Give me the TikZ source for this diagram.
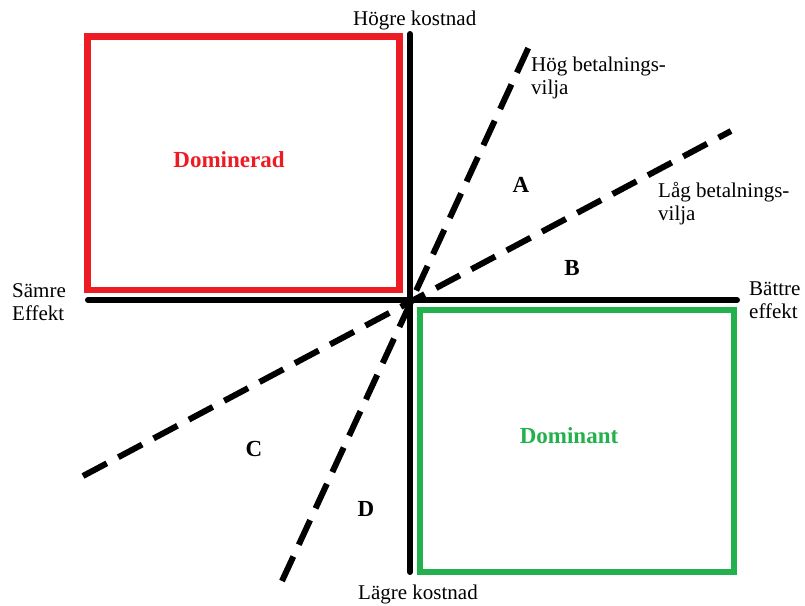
\documentclass[tikz,border=0pt]{standalone}
\usepackage{fontspec}
\setmainfont{Liberation Serif}
\usetikzlibrary{positioning}
\definecolor{ZoneRed}{HTML}{ED1C24}
\definecolor{ZoneGreen}{HTML}{22B14C}
\tikzset{
  every node/.style={font=\fontsize{21}{23}\selectfont, text=black, inner sep=0pt},
  axis/.style={draw=black, line width=6pt, line cap=round},
  threshold/.style={draw=black, line width=6pt, dash pattern=on 27pt off 13pt},
  zone/.style={line width=6.5pt},
  region/.style={font=\fontsize{23}{25}\selectfont\bfseries},
  axislabel/.style={anchor=base west, align=left},
}

\begin{document}
\begin{tikzpicture}[x=1pt,y=-1pt]
  \useasboundingbox (0,0) rectangle (805,605);
  % quadrants
  \draw[zone, ZoneRed] (87.5,36.5) rectangle (399.5,290);
  \draw[zone, ZoneGreen] (420,310) rectangle (734,572);
  % axes
  \coordinate (origo) at (410,300);
  \coordinate (west) at (88,300);
  \coordinate (east) at (737,300);
  \coordinate (north) at (410,34);
  \coordinate (south) at (410,572);
  \draw[axis] (west) -- (east);
  \draw[axis] (north) -- (south);
  % willingness to pay
  \coordinate (hogLow) at (282,581);
  \coordinate (hogHigh) at (532,40);
  \coordinate (lagLow) at (83,476);
  \coordinate (lagHigh) at (731,131);
  \draw[threshold] (hogLow) -- (hogHigh);
  \draw[threshold] (lagLow) -- (lagHigh);
  % labels (base = last line)
  \node[anchor=base west] (hogre) at (353,25) {Högre kostnad};
  \node[anchor=base west] (lagre) at (358,599) {Lägre kostnad};
  \node[axislabel] (samre) at (12,320) {Sämre\\Effekt};
  \node[axislabel] (battre) at (749,318) {Bättre\\effekt};
  \node[axislabel] (hog) at (531,94) {Hög betalnings-\\vilja};
  \node[axislabel] (lag) at (658,220) {Låg betalnings-\\vilja};
  \node[region] (a) at (521,185) {A};
  \node[region] (b) at (572,268) {B};
  \node[region] (c) at (254,449) {C};
  \node[region] (d) at (366,509) {D};
  \node[region, text=ZoneRed] (dominerad) at (229,160) {Dominerad};
  \node[region, text=ZoneGreen] (dominant) at (569,436) {Dominant};
\end{tikzpicture}
\end{document}
